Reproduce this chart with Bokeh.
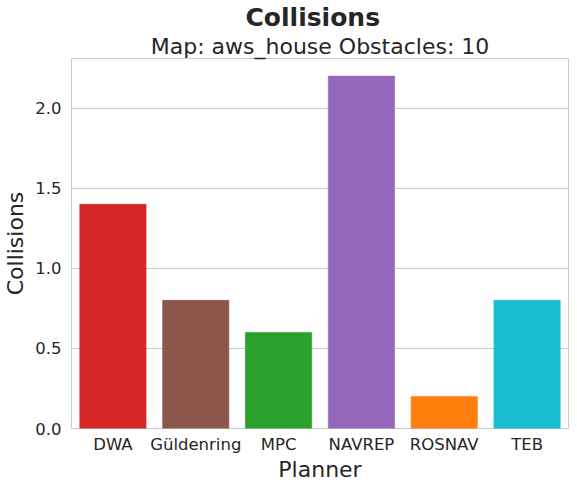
from bokeh.plotting import figure
from bokeh.models import ColumnDataSource, Title, NumeralTickFormatter, Range1d, FixedTicker
from bokeh.embed import file_html
from bokeh.resources import INLINE

planners = ["DWA", "Güldenring", "MPC", "NAVREP", "ROSNAV", "TEB"]
collisions = [1.4, 0.8, 0.6, 2.2, 0.2, 0.8]
colors = ["#d62728", "#8c564b", "#2ca02c", "#9467bd", "#ff7f0e", "#17becf"]
y_ticks = [0.0, 0.5, 1.0, 1.5, 2.0]

FONT = "DejaVu Sans"
TEXT = "#262626"

source = ColumnDataSource(data=dict(planner=planners, collisions=collisions, color=colors))

p = figure(
    frame_width=497, frame_height=370,
    x_range=planners,
    y_range=Range1d(0, 2.31),
    toolbar_location=None,
    output_backend="svg",
    min_border_left=69, min_border_right=2,
    min_border_top=48, min_border_bottom=52,
)

p.vbar(x="planner", top="collisions", width=0.8, source=source,
       fill_color="color", line_color="color", line_alpha=0.6)

# titles: subtitle first so it sits closest to the plot
p.title = None
p.add_layout(Title(text="Map: aws_house Obstacles: 10", align="center",
                   text_font=FONT, text_font_size="22px", text_font_style="normal",
                   text_color=TEXT, standoff=0, offset=0), "above")
# the suptitle sits a bit left of the axes centre
p.add_layout(Title(text="Collisions", align="left",
                   text_font=FONT, text_font_size="25px", text_font_style="bold",
                   text_color=TEXT, standoff=0, offset=174), "above")

p.outline_line_color = "#cccccc"
p.outline_line_width = 1

p.xgrid.grid_line_color = None
p.ygrid.grid_line_color = "#cccccc"

p.yaxis.ticker = FixedTicker(ticks=y_ticks)
p.yaxis.formatter = NumeralTickFormatter(format="0.0")

for ax in (p.xaxis[0], p.yaxis[0]):
    ax.axis_line_color = None
    ax.major_tick_line_color = None
    ax.minor_tick_line_color = None
    ax.major_tick_out = 0
    ax.major_tick_in = 0
    ax.minor_tick_out = 0
    ax.minor_tick_in = 0
    ax.major_label_text_font = FONT
    ax.major_label_text_font_size = "16.5px"
    ax.major_label_text_color = TEXT
    ax.axis_label_text_font = FONT
    ax.axis_label_text_font_size = "22px"
    ax.axis_label_text_font_style = "normal"
    ax.axis_label_text_color = TEXT

p.xaxis.axis_label = "Planner"
p.yaxis.axis_label = "Collisions"
p.xaxis.major_label_standoff = 6
p.yaxis.major_label_standoff = 10
p.xaxis.axis_label_standoff = 0
p.yaxis.axis_label_standoff = 4

p.background_fill_color = "white"
p.border_fill_color = "white"

open("out.html", "w").write(file_html(p, INLINE))
